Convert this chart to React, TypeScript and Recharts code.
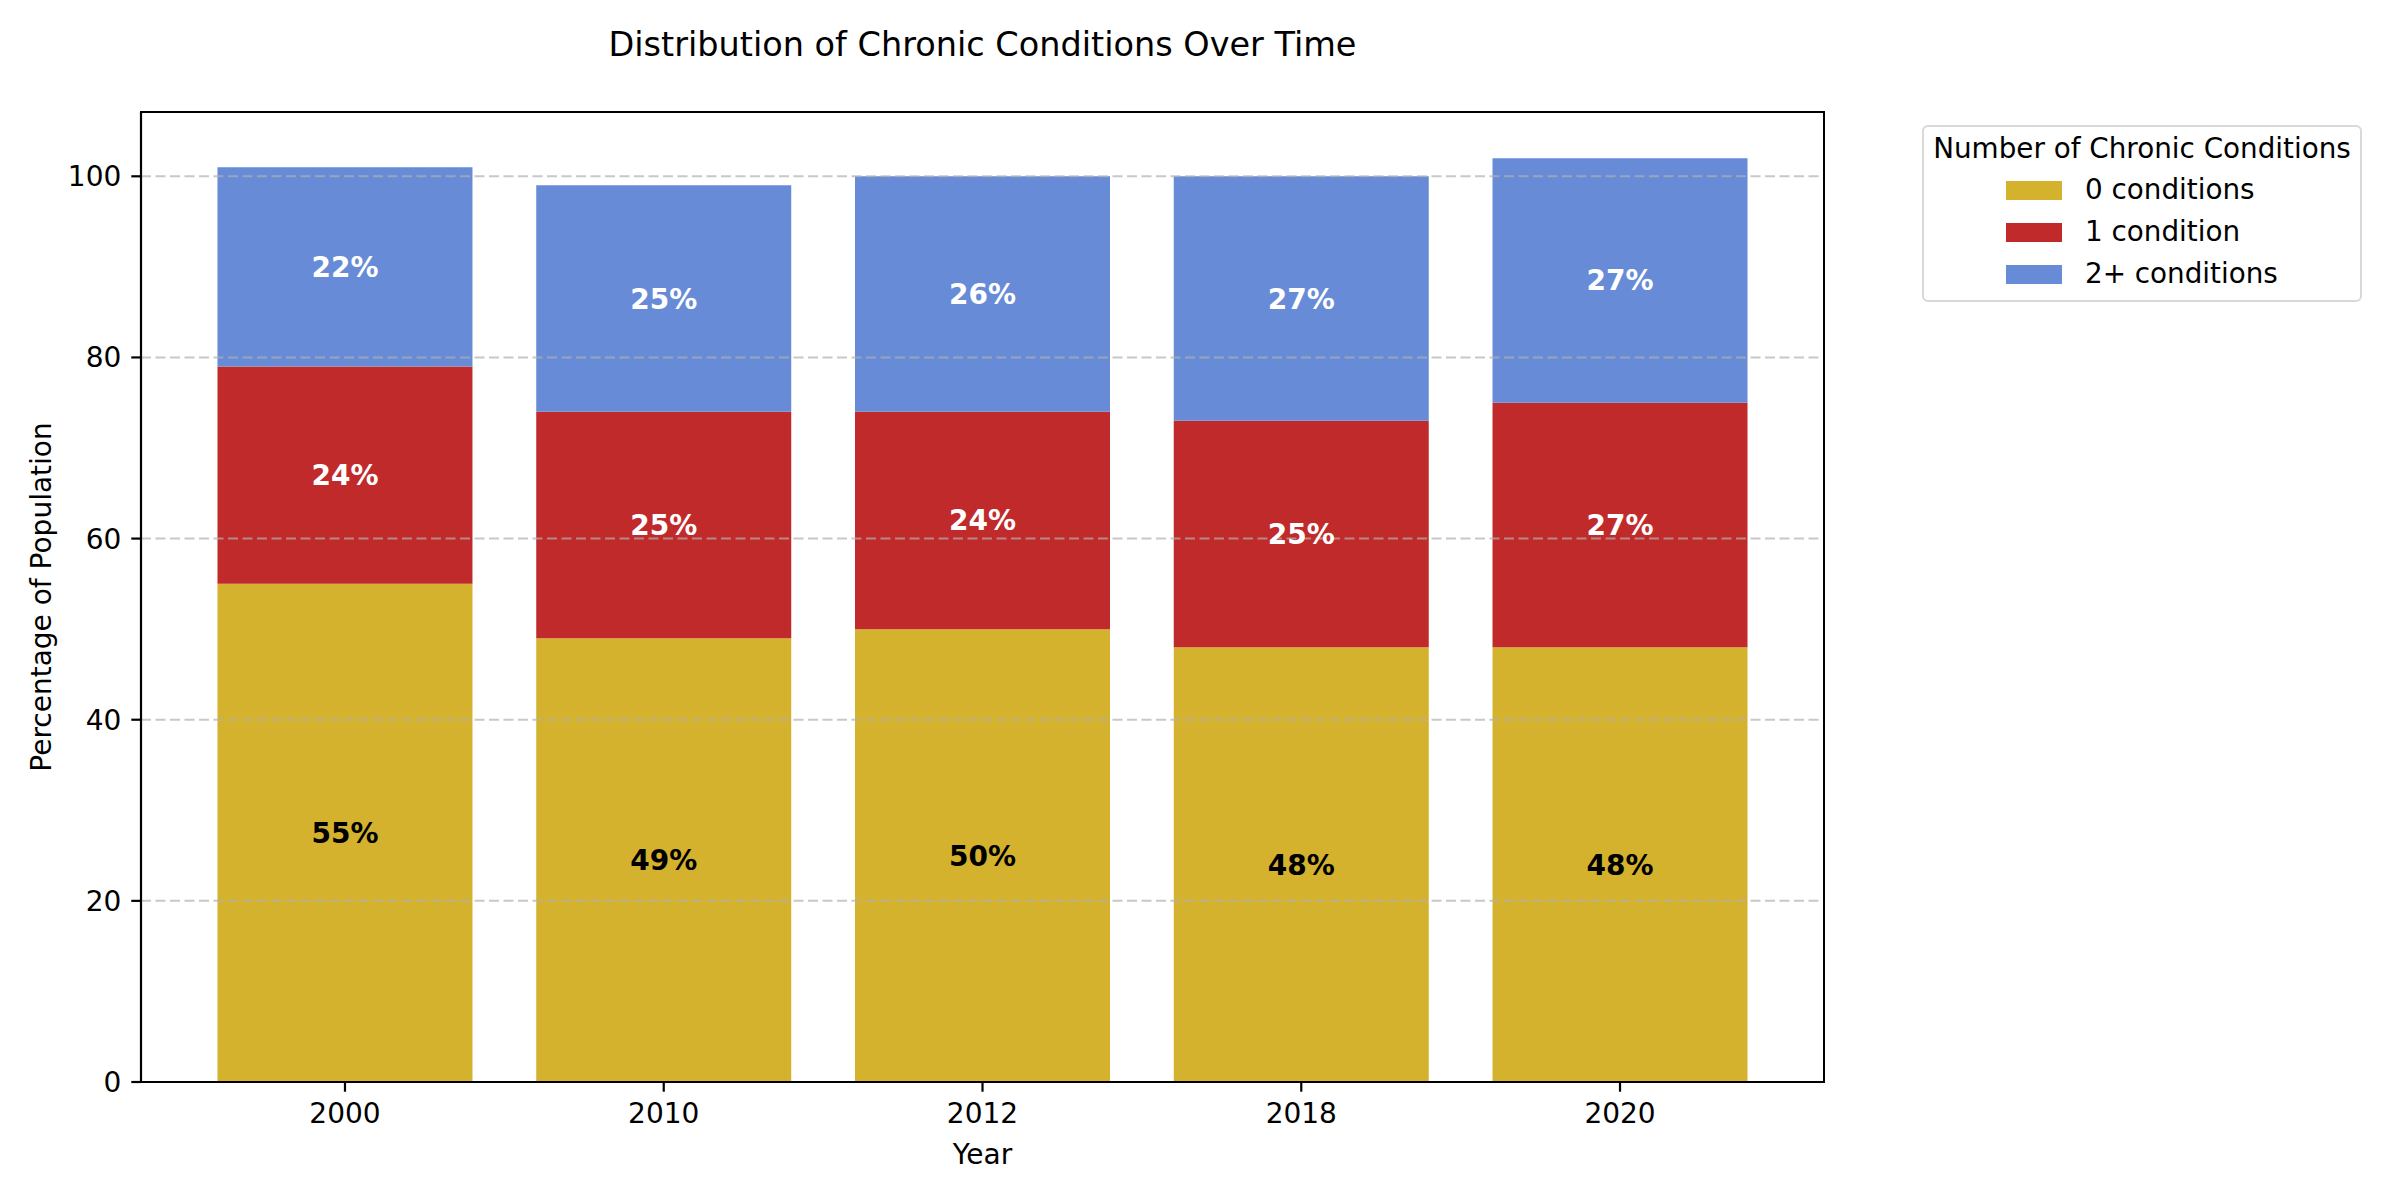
import React from "react";
import {
  BarChart,
  Bar,
  XAxis,
  YAxis,
  LabelList,
  ReferenceLine,
} from "recharts";

// values
const YEARS = ["2000", "2010", "2012", "2018", "2020"];
const ZERO_CONDITIONS = [55, 49, 50, 48, 48];
const ONE_CONDITION = [24, 25, 24, 25, 27];
const TWO_PLUS_CONDITIONS = [22, 25, 26, 27, 27];
const Y_TICKS = [0, 20, 40, 60, 80, 100];

const SERIES = [
  { key: "zero", name: "0 conditions", color: "#D4B22E", text: "#000000" },
  { key: "one", name: "1 condition", color: "#C12A2B", text: "#FFFFFF" },
  { key: "two", name: "2+ conditions", color: "#678BD6", text: "#FFFFFF" },
];

const TITLE = "Distribution of Chronic Conditions Over Time";
const LEGEND_TITLE = "Number of Chronic Conditions";
const FONT = "'DejaVu Sans', sans-serif";

const data = YEARS.map((year, i) => ({
  year,
  zero: ZERO_CONDITIONS[i],
  one: ONE_CONDITION[i],
  two: TWO_PLUS_CONDITIONS[i],
}));

if (typeof document !== "undefined") {
  document.body.style.margin = "0";
}

// plot box in page pixels
const PLOT = { left: 141, top: 112, right: 1824, bottom: 1082 };

const AXIS = { stroke: "#000000", strokeWidth: 2.2 };

function YLabel(props: any) {
  const vb = props.viewBox || { x: 0, y: 0, height: 0 };
  const cx = vb.x + 41;
  const cy = vb.y + vb.height / 2;
  return (
    <text
      x={cx}
      y={cy}
      transform={`rotate(-90 ${cx} ${cy})`}
      textAnchor="middle"
      dominantBaseline="central"
      fontSize={28}
      fontFamily={FONT}
      fill="#000"
    >
      Percentage of Population
    </text>
  );
}

function LegendBox() {
  return (
    <div
      style={{
        position: "absolute",
        left: 1922,
        top: 125,
        width: 440,
        height: 177,
        boxSizing: "border-box",
        border: "2px solid #d9d9d9",
        borderRadius: 6,
        background: "#fff",
        fontFamily: FONT,
        fontSize: 27.8,
        color: "#000",
      }}
    >
      <div style={{ textAlign: "center", lineHeight: "28px", marginTop: 8 }}>
        {LEGEND_TITLE}
      </div>
      <div style={{ marginTop: 6 }}>
        {SERIES.map((s) => (
          <div
            key={s.key}
            style={{ display: "flex", alignItems: "center", height: 42 }}
          >
            <span
              style={{
                display: "inline-block",
                width: 56,
                height: 19,
                marginLeft: 82,
                marginRight: 23,
                background: s.color,
              }}
            />
            <span style={{ lineHeight: "28px" }}>{s.name}</span>
          </div>
        ))}
      </div>
    </div>
  );
}

export default function App() {
  return (
    <div style={{ position: "relative", width: 2400, height: 1200, background: "#fff" }}>
      <div
        style={{
          position: "absolute",
          left: PLOT.left,
          top: 28,
          width: PLOT.right - PLOT.left,
          textAlign: "center",
          fontFamily: FONT,
          fontSize: 33.5,
          lineHeight: "34px",
          color: "#000",
        }}
      >
        {TITLE}
      </div>

      <BarChart
        width={2400}
        height={1200}
        data={data}
        margin={{ top: PLOT.top, right: 2400 - PLOT.right, bottom: 28, left: 0 }}
        barCategoryGap="10%"
        style={{ position: "absolute", left: 0, top: 0 }}
      >
        <XAxis
          dataKey="year"
          padding={{ left: 44.6, right: 44.6 }}
          height={90}
          axisLine={AXIS}
          tickLine={AXIS}
          tickSize={9.7}
          tickMargin={11}
          tick={{ fill: "#000", fontSize: 28, fontFamily: FONT }}
          label={{
            value: "Year",
            position: "insideBottom",
            offset: 8,
            fill: "#000",
            fontSize: 28,
            fontFamily: FONT,
          }}
        />
        <YAxis
          width={PLOT.left}
          domain={[0, (dataMax: number) => dataMax * 1.05]}
          ticks={Y_TICKS}
          axisLine={AXIS}
          tickLine={AXIS}
          tickSize={9.7}
          tickMargin={10}
          tick={{ fill: "#000", fontSize: 28, fontFamily: FONT }}
          label={<YLabel />}
        />

        {SERIES.map((s) => (
          <Bar
            key={s.key}
            dataKey={s.key}
            name={s.name}
            stackId="a"
            fill={s.color}
            isAnimationActive={false}
          >
            <LabelList
              dataKey={s.key}
              position="center"
              formatter={(v: any) => `${v}%`}
              fill={s.text}
              fontSize={28}
              fontWeight="bold"
              fontFamily={FONT}
            />
          </Bar>
        ))}

        {Y_TICKS.filter((t) => t > 0).map((t) => (
          <ReferenceLine
            key={t}
            y={t}
            stroke="#b0b0b0"
            strokeOpacity={0.7}
            strokeWidth={2}
            strokeDasharray="10 4.5"
          />
        ))}
      </BarChart>

      {/* top and right spines of the axes frame */}
      <div
        style={{
          position: "absolute",
          left: PLOT.left - 1.1,
          top: PLOT.top - 1.1,
          width: PLOT.right - PLOT.left + 2.2,
          height: PLOT.bottom - PLOT.top + 2.2,
          boxSizing: "border-box",
          borderTop: "2.2px solid #000",
          borderRight: "2.2px solid #000",
          pointerEvents: "none",
        }}
      />

      <LegendBox />
    </div>
  );
}
